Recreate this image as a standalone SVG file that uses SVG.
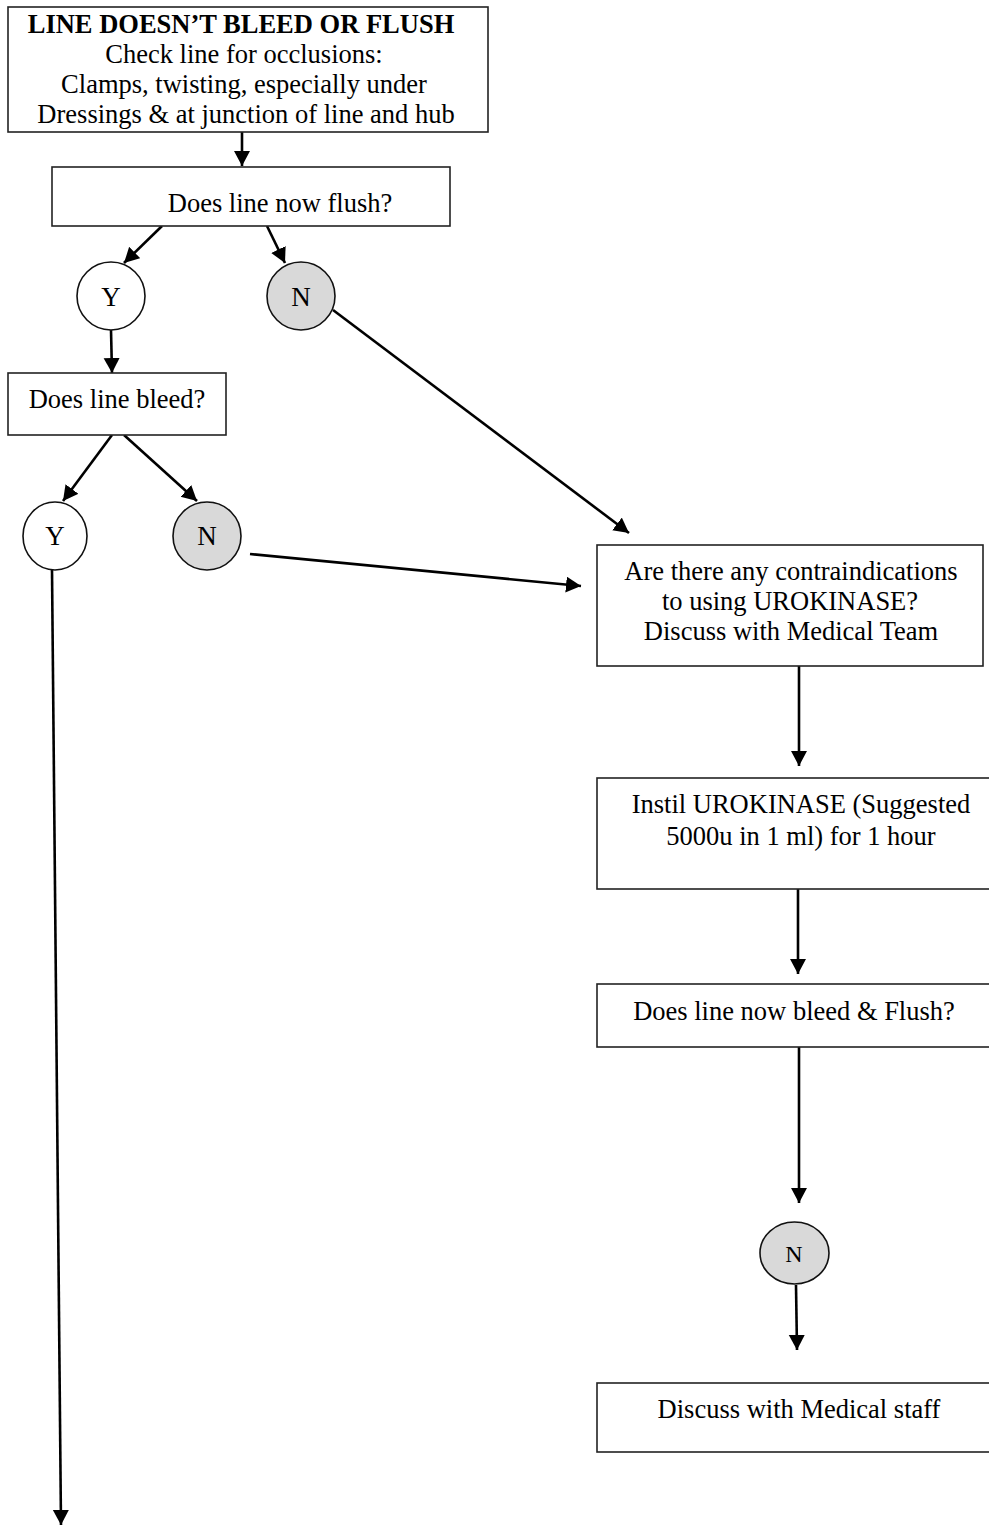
<svg xmlns="http://www.w3.org/2000/svg" width="989" height="1525" viewBox="0 0 989 1525">
<style>
.box{fill:#fff;stroke:#222;stroke-width:1.6}
.cw{fill:#fff;stroke:#111;stroke-width:1.6}
.cg{fill:#d9d9d9;stroke:#111;stroke-width:1.6}
text{font-family:"Liberation Serif","Times New Roman",serif;font-size:26.5px;fill:#000;text-anchor:middle}
.b{font-weight:bold}
.s{font-size:27px}
.con{stroke:#000;stroke-width:2.6;fill:none;marker-end:url(#ah)}
</style>
<defs>
<marker id="ah" markerUnits="userSpaceOnUse" markerWidth="18" markerHeight="18" refX="15" refY="8" orient="auto">
<path d="M0,0 L15,8 L0,16 z" fill="#000"/>
</marker>
</defs>
<rect width="989" height="1525" fill="#fff"/>
<g id="connectors">
<line class="con" x1="242" y1="132" x2="242" y2="166"/>
<line class="con" x1="162" y1="226" x2="124" y2="263"/>
<line class="con" x1="267" y1="226" x2="285" y2="263"/>
<line class="con" x1="111" y1="330" x2="112" y2="373"/>
<line class="con" x1="112" y1="435" x2="63" y2="501"/>
<line class="con" x1="124" y1="435" x2="197" y2="501"/>
<line class="con" x1="333" y1="310" x2="629" y2="533"/>
<line class="con" x1="250" y1="554" x2="581" y2="586"/>
<line class="con" x1="52" y1="570" x2="61" y2="1525"/>
<line class="con" x1="799" y1="666" x2="799" y2="766"/>
<line class="con" x1="798" y1="889" x2="798" y2="974"/>
<line class="con" x1="799" y1="1047" x2="799" y2="1203"/>
<line class="con" x1="796" y1="1285" x2="797" y2="1350"/>
</g>
<g id="start">
<rect class="box" x="8" y="7" width="480" height="125"/>
<text class="b" x="241" y="33">LINE DOESN’T BLEED OR FLUSH</text>
<text x="244" y="63">Check line for occlusions:</text>
<text x="244" y="93">Clamps, twisting, especially under</text>
<text x="246" y="123">Dressings &amp; at junction of line and hub</text>
</g>
<g id="flush">
<rect class="box" x="52" y="167" width="398" height="59"/>
<text x="280" y="212">Does line now flush?</text>
</g>
<g id="y1">
<circle class="cw" cx="111" cy="296" r="34"/>
<text class="s" x="111" y="306">Y</text>
</g>
<g id="n1">
<circle class="cg" cx="301" cy="296" r="34"/>
<text class="s" x="301" y="306">N</text>
</g>
<g id="bleed">
<rect class="box" x="8" y="373" width="218" height="62"/>
<text x="117" y="408">Does line bleed?</text>
</g>
<g id="y2">
<ellipse class="cw" cx="55" cy="536" rx="32" ry="34"/>
<text class="s" x="55" y="545">Y</text>
</g>
<g id="n2">
<circle class="cg" cx="207" cy="536" r="34"/>
<text class="s" x="207" y="545">N</text>
</g>
<g id="contra">
<rect class="box" x="597" y="545" width="386" height="121"/>
<text x="791" y="580">Are there any contraindications</text>
<text x="790" y="610">to using UROKINASE?</text>
<text x="791" y="640">Discuss with Medical Team</text>
</g>
<g id="instil">
<rect class="box" x="597" y="778" width="420" height="111"/>
<text x="801" y="813">Instil UROKINASE (Suggested</text>
<text x="801" y="845">5000u in 1 ml) for 1 hour</text>
</g>
<g id="bleedflush">
<rect class="box" x="597" y="984" width="420" height="63"/>
<text x="794" y="1020">Does line now bleed &amp; Flush?</text>
</g>
<g id="n3">
<ellipse class="cg" cx="794.5" cy="1253" rx="34.5" ry="31"/>
<text x="794" y="1262" style="font-size:24px">N</text>
</g>
<g id="discuss">
<rect class="box" x="597" y="1383" width="420" height="69"/>
<text x="799" y="1418">Discuss with Medical staff</text>
</g>
</svg>
